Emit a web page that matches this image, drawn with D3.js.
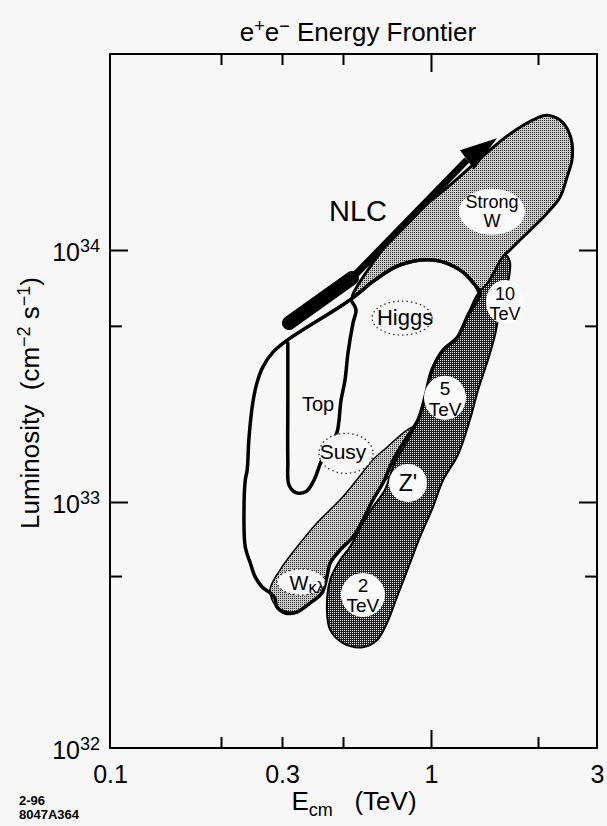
<!DOCTYPE html>
<html>
<head>
<meta charset="utf-8">
<script src="https://cdn.jsdelivr.net/npm/d3@7"></script>
<style>
  body { margin: 0; background: #f7f7f7; }
  svg { display: block; font-family: "Liberation Sans", Arial, Helvetica, sans-serif; }
</style>
</head>
<body>
<script>
// E in TeV, L in units of 1e33 cm^-2 s^-1
var xTickAt = [0.1, 0.2, 0.3, 0.5, 1, 2, 3];
var xTicksMajor = [1];
var xTicksMinor = [0.2, 0.3, 0.5, 2];
var xTickLabels = [0.1, 0.3, 1, 3];
var yTickAt = [0.1, 1, 10, 60];
var yTicksMajor = [1, 10];
var yTicksMinor = [0.5, 5];
var yTickLabels = [0.1, 1, 10];
var yExponents = ["32", "33", "34"];

// white region holding Top / Higgs / Susy / W
var envelope = [[0.315, 4.40], [0.528, 6.33], [0.643, 7.60], [0.783, 8.72], [1.013, 9.13],
  [1.207, 8.33], [1.330, 7.26], [1.374, 6.75], [1.271, 5.52], [1.183, 4.48], [1.081, 4.01],
  [1.006, 3.34], [0.954, 2.61], [0.903, 2.12], [0.815, 1.76], [0.736, 1.44], [0.685, 1.19],
  [0.633, 1.02], [0.585, 0.845], [0.541, 0.721], [0.488, 0.638], [0.449, 0.565], [0.437, 0.496],
  [0.419, 0.427], [0.379, 0.388], [0.340, 0.357], [0.308, 0.354], [0.290, 0.374], [0.286, 0.407],
  [0.277, 0.427], [0.263, 0.451], [0.251, 0.496], [0.243, 0.565], [0.235, 0.656], [0.233, 0.902],
  [0.235, 1.22], [0.238, 1.34], [0.241, 1.81], [0.247, 2.47], [0.254, 2.97], [0.264, 3.43],
  [0.283, 3.94]];

// light band, W kappa lambda
var wklBand = [[0.903, 2.02], [0.828, 1.93], [0.707, 1.65], [0.633, 1.47], [0.550, 1.20],
  [0.488, 1.02], [0.402, 0.822], [0.340, 0.656], [0.296, 0.529], [0.277, 0.439], [0.290, 0.374],
  [0.340, 0.357], [0.379, 0.388], [0.419, 0.427], [0.437, 0.496], [0.449, 0.565], [0.488, 0.638],
  [0.541, 0.721], [0.585, 0.845], [0.633, 1.02], [0.685, 1.19], [0.765, 1.34], [0.868, 1.61],
  [0.917, 1.93]];

// light band, strong W
var strongW = [[0.537, 6.51], [0.783, 12.2], [1.131, 18.1], [1.400, 23.6], [1.668, 28.9],
  [1.987, 33.4], [2.128, 34.3], [2.326, 32.8], [2.458, 29.9], [2.527, 26.6], [2.527, 22.8],
  [2.442, 19.5], [2.326, 16.2], [2.128, 14.0], [1.936, 12.3], [1.780, 10.96], [1.668, 10.0],
  [1.594, 9.38], [1.374, 6.75], [1.330, 7.26], [1.207, 8.33], [1.013, 9.13], [0.783, 8.72],
  [0.643, 7.60]];

// dark band, Z'
var zBand = [[1.615, 9.55], [1.668, 8.96], [1.636, 7.13], [1.563, 5.78], [1.514, 4.60],
  [1.446, 3.66], [1.356, 2.78], [1.287, 2.12], [1.191, 1.54], [1.081, 1.22], [1.013, 0.954],
  [0.917, 0.721], [0.848, 0.565], [0.765, 0.411], [0.707, 0.322], [0.654, 0.275], [0.585, 0.257],
  [0.500, 0.267], [0.449, 0.302], [0.437, 0.364], [0.449, 0.482], [0.488, 0.581], [0.528, 0.656],
  [0.585, 0.822], [0.633, 0.954], [0.696, 1.12], [0.753, 1.44], [0.815, 1.68], [0.903, 2.12],
  [0.954, 2.61], [1.006, 3.34], [1.081, 4.01], [1.183, 4.48], [1.263, 5.42], [1.347, 6.63],
  [1.466, 7.60]];

// top quark loop (open line)
var topLoop = [[0.537, 6.22], [0.554, 5.78], [0.541, 5.13], [0.520, 3.90], [0.508, 3.05],
  [0.492, 2.54], [0.475, 1.88], [0.449, 1.68], [0.419, 1.47], [0.392, 1.22], [0.367, 1.10],
  [0.337, 1.09], [0.318, 1.17], [0.315, 1.47], [0.315, 2.54], [0.315, 4.28]];

// NLC arrow
var nlcBar = [[0.318, 5.13], [0.537, 7.74]];
var nlcShaft = [[0.537, 7.74], [1.263, 22.8]];
var nlcTip = [1.533, 27.8];

// labels
var labelNames = ["Strong W", "10 TeV", "5 TeV", "Z'", "2 TeV", "Higgs", "Susy", "Top", "Wkl", "NLC"];
var labelE = [1.484, 1.615, 1.095, 0.834, 0.585, 0.815, 0.500, 0.406, 0.370, 0.563];
var labelL = [14.2, 6.22, 2.59, 1.19, 0.419, 5.37, 1.56, 2.43, 0.473, 14.4];

var chartW = 607, chartH = 826;
var bg = "#f7f7f7";

var svg = d3.select("body").append("svg")
    .attr("width", chartW)
    .attr("height", chartH);

// the printed axes are not quite logarithmic; pin the scales to their tick marks
var x = d3.scaleLog().domain(xTickAt).range([110, 221, 282, 343, 431, 538, 597]);
var y = d3.scaleLog().domain(yTickAt).range([748, 502, 250, 54]);

var defs = svg.append("defs");
var light = defs.append("pattern").attr("id", "light")
    .attr("width", 2).attr("height", 2).attr("patternUnits", "userSpaceOnUse");
light.append("rect").attr("width", 2).attr("height", 2).attr("fill", "#cdcdcd");
light.append("rect").attr("width", 1).attr("height", 1).attr("fill", "#222");
var dark = defs.append("pattern").attr("id", "dark")
    .attr("width", 2).attr("height", 2).attr("patternUnits", "userSpaceOnUse");
dark.append("rect").attr("width", 2).attr("height", 2).attr("fill", "#1e1e1e");
dark.append("rect").attr("width", 1).attr("height", 1).attr("fill", "#f2f2f2");

var lineClosed = d3.line().x(d => x(d[0])).y(d => y(d[1])).curve(d3.curveCatmullRomClosed.alpha(0.5));
var lineOpen = d3.line().x(d => x(d[0])).y(d => y(d[1])).curve(d3.curveCatmullRom.alpha(0.5));
var lineStraight = d3.line().x(d => x(d[0])).y(d => y(d[1]));

// regions
svg.append("path").attr("d", lineClosed(envelope)).attr("fill", bg);
svg.append("path").attr("d", lineClosed(strongW))
    .attr("fill", "url(#light)").attr("stroke", "#000").attr("stroke-width", 3);
svg.append("path").attr("d", lineClosed(wklBand))
    .attr("fill", "url(#light)").attr("stroke", "#000").attr("stroke-width", 1.5);
svg.append("path").attr("d", lineClosed(zBand))
    .attr("fill", "url(#dark)").attr("stroke", "#000").attr("stroke-width", 2);
svg.append("path").attr("d", lineClosed(envelope))
    .attr("fill", "none").attr("stroke", "#000").attr("stroke-width", 3.5)
    .attr("stroke-linejoin", "round");
svg.append("path").attr("d", lineOpen(topLoop))
    .attr("fill", "none").attr("stroke", "#000").attr("stroke-width", 3.5)
    .attr("stroke-linecap", "round");

// NLC arrow
svg.append("path").attr("d", lineStraight(nlcShaft))
    .attr("stroke", "#000").attr("stroke-width", 7).attr("fill", "none");
svg.append("path").attr("d", lineStraight(nlcBar))
    .attr("stroke", "#000").attr("stroke-width", 14).attr("stroke-linecap", "round");
var base = [x(nlcShaft[1][0]), y(nlcShaft[1][1])];
var tip = [x(nlcTip[0]), y(nlcTip[1])];
var ddx = tip[0] - base[0], ddy = tip[1] - base[1];
var dlen = Math.sqrt(ddx * ddx + ddy * ddy);
var nx = -ddy / dlen * 12, ny = ddx / dlen * 12;
svg.append("polygon")
    .attr("points", [tip, [base[0] + nx, base[1] + ny], [base[0] - nx, base[1] - ny]].map(p => p.join(",")).join(" "))
    .attr("fill", "#000");

// label backgrounds
var blobs = {
  "Strong W": {rx: 33, ry: 23, dx: 0, dotted: false},
  "10 TeV": {rx: 19, ry: 22, dx: 0, dotted: false},
  "5 TeV": {rx: 21, ry: 22, dx: 0, dotted: false},
  "Z'": {rx: 19, ry: 19, dx: 0, dotted: false},
  "2 TeV": {rx: 22, ry: 22, dx: 0, dotted: false},
  "Higgs": {rx: 30, ry: 17, dx: -3, dotted: true},
  "Susy": {rx: 27, ry: 20, dx: 3, dotted: true},
  "Wkl": {rx: 24, ry: 13, dx: -6, dotted: true}
};
labelNames.forEach(function (nm, i) {
  var b = blobs[nm];
  if (!b) return;
  svg.append("ellipse")
      .attr("cx", x(labelE[i]) + b.dx).attr("cy", y(labelL[i]))
      .attr("rx", b.rx).attr("ry", b.ry)
      .attr("fill", b.dotted ? bg : "#fbfbfb")
      .attr("stroke", b.dotted ? "#333" : "none")
      .attr("stroke-width", 1.3)
      .attr("stroke-dasharray", "1.5,3");
});

// label text: lines with baseline offsets and font sizes
var texts = {
  "Strong W": {size: 18, lines: [["Strong", -4], ["W", 15]]},
  "10 TeV": {size: 18, lines: [["10", -2], ["TeV", 18]]},
  "5 TeV": {size: 19, lines: [["5", -3], ["TeV", 18]]},
  "Z'": {size: 23, lines: [["Z'", 8]]},
  "2 TeV": {size: 19, lines: [["2", -3], ["TeV", 17]]},
  "Higgs": {size: 22, lines: [["Higgs", 7]]},
  "Susy": {size: 21, lines: [["Susy", 6]]},
  "Top": {size: 20, lines: [["Top", 6]]},
  "NLC": {size: 29, lines: [["NLC", 11]]}
};
labelNames.forEach(function (nm, i) {
  var cx = x(labelE[i]), cy = y(labelL[i]);
  if (nm === "Wkl") {
    var t = svg.append("text").attr("x", cx).attr("y", cy + 8)
        .attr("text-anchor", "middle").attr("font-size", 20);
    t.append("tspan").text("W");
    t.append("tspan").attr("font-size", 16).attr("dy", 3).text("κλ");
    return;
  }
  var s = texts[nm];
  s.lines.forEach(function (ln) {
    svg.append("text").attr("x", cx).attr("y", cy + ln[1])
        .attr("text-anchor", "middle").attr("font-size", s.size).text(ln[0]);
  });
});

// axes, all ticks pointing inward
function tidy(g) {
  g.select(".domain").remove();
  g.selectAll("line").attr("stroke", "#000").attr("stroke-width", 2);
}
svg.append("g").attr("transform", "translate(0,748)")
    .call(d3.axisBottom(x).tickValues(xTicksMinor).tickSize(-11).tickFormat(""))
    .call(tidy);
svg.append("g").attr("transform", "translate(0,748)")
    .call(d3.axisBottom(x).tickValues(xTicksMajor).tickSize(-18).tickFormat(""))
    .call(tidy);
svg.append("g").attr("transform", "translate(0,54)")
    .call(d3.axisTop(x).tickValues(xTicksMinor).tickSize(-11).tickFormat(""))
    .call(tidy);
svg.append("g").attr("transform", "translate(0,54)")
    .call(d3.axisTop(x).tickValues(xTicksMajor).tickSize(-18).tickFormat(""))
    .call(tidy);
svg.append("g").attr("transform", "translate(110,0)")
    .call(d3.axisLeft(y).tickValues(yTicksMinor).tickSize(-12).tickFormat(""))
    .call(tidy);
svg.append("g").attr("transform", "translate(110,0)")
    .call(d3.axisLeft(y).tickValues(yTicksMajor).tickSize(-18).tickFormat(""))
    .call(tidy);
svg.append("g").attr("transform", "translate(597,0)")
    .call(d3.axisRight(y).tickValues(yTicksMinor).tickSize(-12).tickFormat(""))
    .call(tidy);
svg.append("g").attr("transform", "translate(597,0)")
    .call(d3.axisRight(y).tickValues(yTicksMajor).tickSize(-18).tickFormat(""))
    .call(tidy);

var xLab = svg.append("g").attr("transform", "translate(0,748)")
    .call(d3.axisBottom(x).tickValues(xTickLabels).tickSize(0).tickPadding(17).tickFormat(d => String(d)))
    .call(tidy);
xLab.attr("font-size", 25).attr("font-family", null);
xLab.selectAll("text").attr("fill", "#000");

var yLab = svg.append("g").attr("transform", "translate(110,0)")
    .call(d3.axisLeft(y).tickValues(yTickLabels).tickSize(0).tickPadding(10).tickFormat(""))
    .call(tidy);
yLab.attr("font-size", 25).attr("font-family", null);
yLab.selectAll("text").attr("fill", "#000").attr("dy", "0.4em").each(function (d, i) {
  var t = d3.select(this);
  t.append("tspan").text("10");
  t.append("tspan").attr("dy", -9).attr("font-size", 18).text(yExponents[i]);
});

svg.append("rect").attr("x", 110).attr("y", 54)
    .attr("width", 597 - 110).attr("height", 748 - 54)
    .attr("fill", "none").attr("stroke", "#000").attr("stroke-width", 2);

// titles
var title = svg.append("text").attr("x", 358).attr("y", 41)
    .attr("text-anchor", "middle").attr("font-size", 26);
title.append("tspan").text("e");
title.append("tspan").attr("dy", -9).attr("font-size", 18).text("+");
title.append("tspan").attr("dy", 9).text("e");
title.append("tspan").attr("dy", -9).attr("font-size", 18).text("−");
title.append("tspan").attr("dy", 9).text(" Energy Frontier");

var xt = svg.append("text").attr("x", 354).attr("y", 810)
    .attr("text-anchor", "middle").attr("font-size", 26);
xt.append("tspan").text("E");
xt.append("tspan").attr("dy", 6).attr("font-size", 18).text("cm");
xt.append("tspan").attr("dy", -6).text("\u00a0\u00a0\u00a0(TeV)");

var yt = svg.append("text").attr("transform", "translate(39,403) rotate(-90)")
    .attr("text-anchor", "middle").attr("font-size", 26);
yt.append("tspan").text("Luminosity\u00a0\u00a0(cm");
yt.append("tspan").attr("dy", -9).attr("font-size", 18).text("−2");
yt.append("tspan").attr("dy", 9).text(" s");
yt.append("tspan").attr("dy", -9).attr("font-size", 18).text("−1");
yt.append("tspan").attr("dy", 9).text(")");

svg.append("text").attr("x", 19).attr("y", 805)
    .attr("font-size", 13).attr("font-weight", "bold").text("2-96");
svg.append("text").attr("x", 19).attr("y", 819)
    .attr("font-size", 13).attr("font-weight", "bold").text("8047A364");
</script>
</body>
</html>
